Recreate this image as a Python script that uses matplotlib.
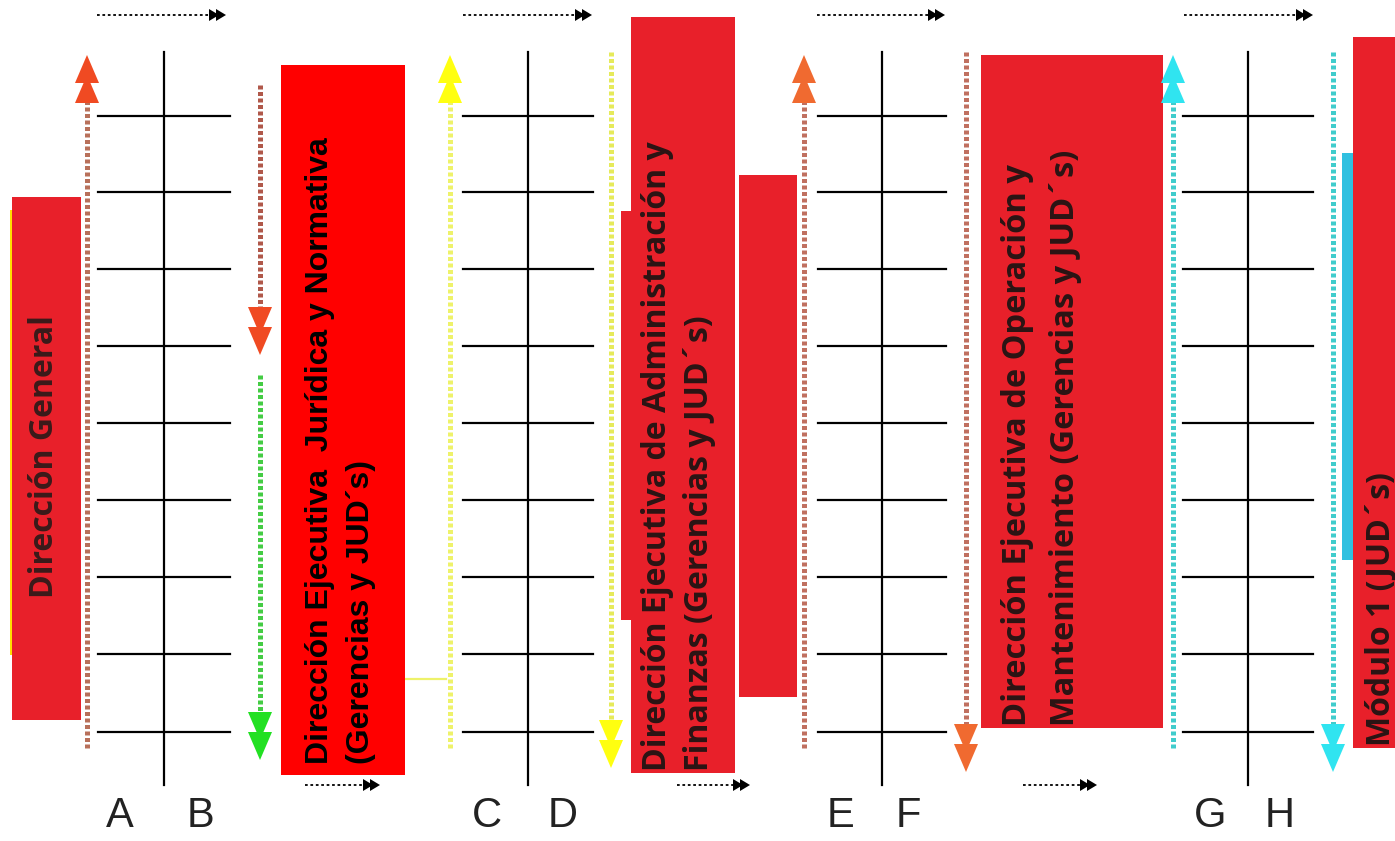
import matplotlib
matplotlib.use("Agg")
import matplotlib.pyplot as plt
from matplotlib.patches import Polygon, Rectangle

W, H = 1395, 841

# ---- data ----
ladder_x = [164, 528, 882, 1248]
ladder_half = [66, 65, 64, 65]
ladder_top, ladder_bottom = 52, 785
rung_y = [116, 192, 269, 346, 423, 500, 577, 654, 732]
letters = ["A", "B", "C", "D", "E", "F", "G", "H"]
letter_x = [120, 200, 487, 563, 840, 908, 1210, 1280]
letter_y = 816

# vertical arrows: x, y_from, y_to(tip), line colour, head colour
varrows = [
    (87, 748, 55, "#b8705a", "#f04a22"),
    (260, 85, 355, "#b0584a", "#f04a22"),
    (260, 375, 760, "#44cc44", "#22e022"),
    (450, 748, 55, "#eef26a", "#ffff10"),
    (611, 52, 768, "#e6ea5a", "#ffff10"),
    (804, 748, 55, "#c07060", "#f06a30"),
    (966, 52, 772, "#c07060", "#f06a30"),
    (1173, 748, 55, "#40cccc", "#30e4f0"),
    (1333, 52, 772, "#40cccc", "#30e4f0"),
]

# small black flow arrows: x_from, x_to, y
harrows = [(97, 226, 15), (463, 592, 15), (817, 945, 15), (1184, 1313, 15),
           (305, 380, 785), (677, 750, 785), (1023, 1097, 785)]

# boxes: x0, y0, x1, y1, colour
boxes = [
    (10, 210, 14, 655, "#ffe000"),
    (12, 197, 81, 720, "#e8202a"),
    (281, 65, 405, 775, "#ff0000"),
    (621, 211, 632, 620, "#e8202a"),
    (631, 17, 735, 773, "#e8202a"),
    (739, 175, 797, 697, "#e8202a"),
    (981, 55, 1163, 728, "#e8202a"),
    (1342, 153, 1354, 560, "#30c0e0"),
    (1353, 37, 1400, 748, "#e8202a"),
]

# box texts: x, y_bottom, text, family, size, colour
texts = [
    (45, 598, "Dirección General", "Open Sans", 23, "#3a1a1a"),
    (320, 764, "Dirección Ejecutiva  Jurídica y Normativa", "Liberation Sans", 23, "#000000"),
    (361, 764, "(Gerencias y JUD´s)", "Liberation Sans", 23, "#000000"),
    (657, 771, "Dirección Ejecutiva de Administración y", "Open Sans", 23, "#2a1414"),
    (700, 771, "Finanzas (Gerencias y JUD´s)", "Open Sans", 23, "#2a1414"),
    (1018, 726, "Dirección Ejecutiva de Operación y", "Open Sans", 23.5, "#2a1414"),
    (1065, 726, "Mantenimiento (Gerencias y JUD´s)", "Open Sans", 23.5, "#2a1414"),
    (1381, 746, "Módulo 1 (JUD´s)", "Open Sans", 23, "#2a1414"),
]

connector = (405, 446, 679, "#eef26a")

# ---- drawing ----
fig = plt.figure(figsize=(W / 100, H / 100), dpi=100)
ax = fig.add_axes([0, 0, 1, 1])
ax.set_xlim(0, W)
ax.set_ylim(H, 0)
ax.axis("off")

# ladders
for lx, hw in zip(ladder_x, ladder_half):
    ax.plot([lx, lx], [ladder_top, ladder_bottom], color="black", lw=1.6, zorder=2)
    for ry in rung_y:
        ax.plot([lx - hw, lx + hw], [ry, ry], color="black", lw=1.6, zorder=2)

for lt, lxp in zip(letters, letter_x):
    ax.text(lxp, letter_y, lt, ha="center", va="center", fontsize=30,
            family=["Liberation Sans", "DejaVu Sans"], color="#222222")

# connector
ax.plot([connector[0], connector[1]], [connector[2], connector[2]], color=connector[3], lw=1.6, zorder=1)

# boxes
for x0, y0, x1, y1, c in boxes:
    ax.add_patch(Rectangle((x0, y0), x1 - x0, y1 - y0, color=c, lw=0, zorder=3))

# vertical arrows
for x, y0, y1, lc, hc in varrows:
    d = 1 if y1 > y0 else -1
    ax.plot([x, x], [y0, y1 - d * 30], color=lc, lw=3.6,
            linestyle=(0, (0.8, 0.5)), zorder=4, solid_capstyle="butt")
    hw = 12
    for off in (0, 20):
        tip = y1 - d * off
        base = tip - d * 28
        ax.add_patch(Polygon([(x, tip), (x - hw, base), (x + hw, base)],
                             closed=True, color=hc, lw=0, zorder=5))

# horizontal black arrows
for x0, x1, y in harrows:
    ax.plot([x0, x1 - 14], [y, y], color="black", lw=1.3,
            linestyle=(0, (1.5, 1.5)), zorder=4)
    for off in (0, 7):
        tip = x1 - off
        ax.add_patch(Polygon([(tip, y), (tip - 10, y - 6), (tip - 10, y + 6)],
                             closed=True, color="black", lw=0, zorder=5))

# texts
for x, yb, t, fam, fs, c in texts:
    ax.text(x, yb, t, rotation=90, ha="center", va="bottom", fontsize=fs,
            fontweight="bold", family=[fam, "DejaVu Sans"], color=c, zorder=6)

fig.savefig("out.png", dpi=100)
